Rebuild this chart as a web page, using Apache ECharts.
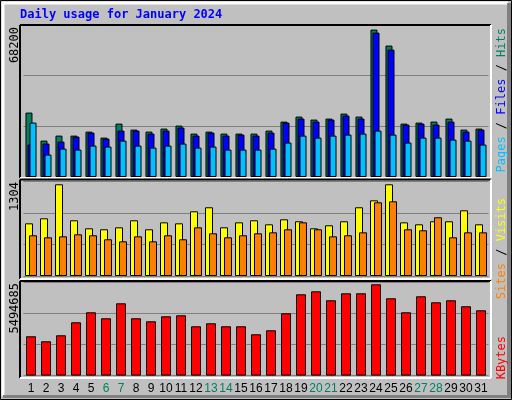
<!DOCTYPE html>
<html><head><meta charset="utf-8">
<script src="https://cdn.jsdelivr.net/npm/echarts@6/dist/echarts.min.js"></script>
<style>html,body{margin:0;padding:0;background:#c0c0c0}#c{width:512px;height:400px}</style>
</head><body><div id="c"></div>
<script>
const days = Array.from({length:31},(_, i)=>String(i+1));
const weekendDays = ['6','7','13','14','20','21','27','28'];
const hits = [29800,16840,19150,19150,21000,18230,24700,21930,21000,22400,23780,20080,21000,20080,20080,20080,21470,25630,27950,26560,27020,29330,27950,68200,60800,24700,25170,25630,27020,21930,22400];
const files = [15000,15450,16380,18690,20540,17770,21470,21470,20080,21470,22860,19150,20540,19150,19620,19150,20540,25170,27020,25630,26560,28410,27020,66810,58950,24250,24700,24250,25630,21000,21930];
const pages = [25170,10360,13140,12680,14530,14070,16840,14530,13600,14530,15450,13600,14070,12680,12680,12680,13140,15920,19150,18230,19150,19620,20080,21470,19620,15920,18230,18230,17300,16840,15000];
const visits = [749,820,1304,792,678,664,692,792,664,763,749,920,977,692,763,792,735,806,778,678,721,778,977,1076,1304,763,735,778,778,934,735];
const sites = [579,550,564,593,579,522,493,564,493,579,522,692,607,550,579,607,621,664,763,664,564,579,621,1048,1062,664,650,835,550,621,621];
const kbytes = [2366000,2065000,2426000,3208000,3810000,3449000,4351000,3449000,3269000,3569000,3630000,2968000,3148000,2968000,2968000,2487000,2727000,3750000,4893000,5073000,4532000,4953000,4953000,5494685,4652000,3810000,4773000,4412000,4532000,4171000,3930000];
const maxLabels = ['68200','1304','5494685'];

const B = {borderColor:'#000',borderWidth:1};
const L = 23.5, R = 23.5;
const grids = [
  {left:L,right:R,top:25,height:152},
  {left:L,right:R,top:181.5,height:94.5},
  {left:L,right:R,top:282,height:93.6}
];
const maxes = [68200*152/147.4, 1304*94.5/91.7, 5494685*93.6/91.3];
const xAxes = grids.map((g,i)=>({gridIndex:i,type:'category',data:days,
  axisLine:{show:false},axisTick:{show:false},
  axisLabel:{show:i===2,interval:0,margin:7,fontFamily:'Liberation Sans',fontSize:12,
    color:(v)=>weekendDays.includes(v)?'#008060':'#000'}}));
const yAxes = maxes.map((m,i)=>({gridIndex:i,type:'value',min:0,max:m,interval:m/3,
  axisLabel:{show:false},axisLine:{show:false},axisTick:{show:false},
  splitLine:{show:true,lineStyle:{color:'#808080',width:1}}}));

function panel(x1,y1,x2,y2){
  return [
    {type:'line',shape:{x1:x1,y1:y1,x2:x2,y2:y1},style:{stroke:'#000',lineWidth:2},z:10},
    {type:'line',shape:{x1:x1,y1:y1,x2:x1,y2:y2},style:{stroke:'#000',lineWidth:2},z:10},
    {type:'line',shape:{x1:x1,y1:y2,x2:x2,y2:y2},style:{stroke:'#fff',lineWidth:2},z:10},
    {type:'line',shape:{x1:x2,y1:y1,x2:x2,y2:y2},style:{stroke:'#fff',lineWidth:2},z:10}
  ];
}
function vtext(x,y,rich,text){
  return {type:'text',x:x,y:y,rotation:Math.PI/2,z:20,
    style:{text:text,align:'right',verticalAlign:'middle',font:'12px "DejaVu Sans Mono"',fill:'#000',rich:rich}};
}
const rt = {fontFamily:'DejaVu Sans Mono',fontSize:12};
const graphic = [
  {type:'rect',shape:{x:0.5,y:0.5,width:511,height:399},style:{fill:'#c0c0c0',stroke:'#000',lineWidth:1},z:-10},
  {type:'line',shape:{x1:2,y1:3,x2:508,y2:3},style:{stroke:'#fff',lineWidth:3},z:-9},
  {type:'line',shape:{x1:3,y1:2,x2:3,y2:396},style:{stroke:'#fff',lineWidth:3},z:-9},
  {type:'line',shape:{x1:509,y1:3,x2:509,y2:398},style:{stroke:'#808080',lineWidth:4},z:-9},
  {type:'line',shape:{x1:3,y1:396.5,x2:510,y2:396.5},style:{stroke:'#808080',lineWidth:3},z:-9},
  {type:'text',x:20,y:15,z:20,style:{text:'Daily usage for January 2024',font:'bold 12px "DejaVu Sans Mono"',fill:'#0000ff',verticalAlign:'middle'}},
  ...panel(20,25,491,178),...panel(20,179.5,491,279),...panel(20,281,491,378),
  vtext(15,27,{},maxLabels[0]),
  vtext(15,182,{},maxLabels[1]),
  vtext(15,283,{},maxLabels[2]),
  vtext(502,28,{p:{...rt,fill:'#00c0ff'},f:{...rt,fill:'#0000ff'},h:{...rt,fill:'#008060'},s:{...rt,fill:'#000'}},'{p|Pages}{s| / }{f|Files}{s| / }{h|Hits}'),
  vtext(502,198,{a:{...rt,fill:'#ff8000'},b:{...rt,fill:'#ffff00'},s:{...rt,fill:'#000'}},'{a|Sites}{s| / }{b|Visits}'),
  vtext(502,336,{k:{...rt,fill:'#ff0000'}},'{k|KBytes}')
];
const series = [
  {type:'bar',xAxisIndex:0,yAxisIndex:0,data:hits,barWidth:7,barGap:'-71%',itemStyle:{color:'#008060',...B}},
  {type:'bar',xAxisIndex:0,yAxisIndex:0,data:files,barWidth:7,barGap:'-71%',itemStyle:{color:'#0000ff',...B}},
  {type:'bar',xAxisIndex:0,yAxisIndex:0,data:pages,barWidth:7,barGap:'-71%',itemStyle:{color:'#00c0ff',...B}},
  {type:'bar',xAxisIndex:1,yAxisIndex:1,data:visits,barWidth:8,barGap:'-50%',itemStyle:{color:'#ffff00',...B}},
  {type:'bar',xAxisIndex:1,yAxisIndex:1,data:sites,barWidth:8,barGap:'-50%',itemStyle:{color:'#ff8000',...B}},
  {type:'bar',xAxisIndex:2,yAxisIndex:2,data:kbytes,barWidth:10,itemStyle:{color:'#ff0000',...B}}
];
const chart = echarts.init(document.getElementById('c'));
chart.setOption({animation:false,backgroundColor:'#c0c0c0',grid:grids,xAxis:xAxes,yAxis:yAxes,series:series,graphic:graphic});
</script></body></html>
